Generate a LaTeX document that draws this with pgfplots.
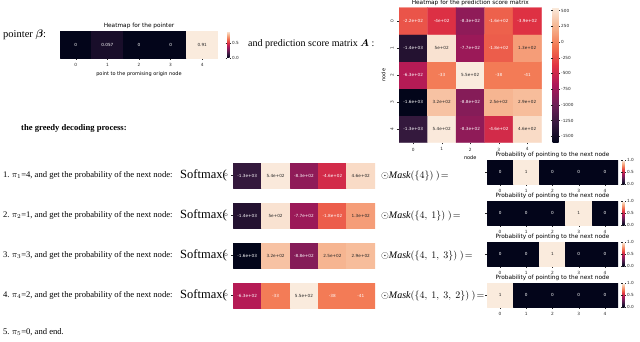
\documentclass[border=0pt]{standalone}
\usepackage{pgfplots}
\pgfplotsset{compat=1.18}
\usepackage{amsmath}
\usepackage{fontspec}
\setmainfont{Liberation Serif}
\newfontfamily\dv{DejaVu Sans}

% seaborn "rocket"
\pgfplotsset{colormap={rocket}{rgb255=(3,5,26) rgb255=(53,25,62) rgb255=(112,31,87) rgb255=(173,23,89)
  rgb255=(225,51,66) rgb255=(243,118,81) rgb255=(246,180,143) rgb255=(250,235,221)}}

\pgfplotsset{
  hm/.style={scale only axis, enlargelimits=false, axis line style={draw=none},
    tick align=outside, tick pos=left, major tick length=1.8pt,
    tick style={black!85, line width=0.35pt},
    tick label style={font=\dv\fontsize{4.3}{5}\selectfont, text=black!85},
    /pgf/number format/assume math mode=true,
    colormap name=rocket, xmin=-0.5, xmax=4.5, xtick={0,...,4},
    every axis title/.style={at={(0.5,1)}, anchor=south, inner sep=0pt, yshift=2pt,
      font=\dv\fontsize{5.8}{6}\selectfont},
    label style={font=\dv\fontsize{5}{6}\selectfont}},
  cell/.style={patch, patch type=rectangle, shader=flat corner, point meta=explicit},
  lab/.style={only marks, mark=text, text mark={},
    nodes near coords={\pgfplotspointmeta}, nodes near coords align=center,
    point meta=explicit symbolic,
    every node near coord/.append style={font=\dv\fontsize{4.2}{5}\selectfont, inner sep=0pt, text=#1}},
  % the colorbar already sits 0.3cm to the right; the xshift values below correct it
  cbar/.style={colorbar, colorbar style={at={(parent axis.north east)}, anchor=north west,
    axis line style={draw=none}, tick align=outside, major tick length=1.5pt,
    tick style={black!85, line width=0.35pt},
    yticklabel style={font=\dv\fontsize{4.2}{5}\selectfont, text=black!85, inner sep=1pt,
      /pgf/number format/assume math mode=true, /pgf/number format/1000 sep={}}}},
  row/.style={hm, width=142pt, height=25pt, anchor=north west, ymin=-0.5, ymax=0.5,
    xtick=\empty, ytick={0}, yticklabel style={rotate=90, anchor=south},
    point meta min=-1600, point meta max=550},
  prob/.style={hm, width=131pt, height=24pt, anchor=north west, ymin=-0.5, ymax=0.5,
    ytick={0}, yticklabels={}, title={Probability of pointing to the next node},
    point meta min=0, point meta max=1, cbar,
    colorbar style={xshift=-4pt, width=2pt, ytick={0,0.5,1},
      yticklabel style={/pgf/number format/.cd, fixed, fixed zerofill, precision=1}}},
}
\tikzset{txt/.style={anchor=west, inner sep=0pt}}

\begin{document}
\begin{tikzpicture}

% ---- texts
\node[txt, font=\fontsize{10.5}{12}\selectfont] at (3pt,-35pt) {pointer $\boldsymbol{\beta}$:};
\node[txt, font=\fontsize{10}{12}\selectfont] at (248pt,-44pt) {and prediction score matrix $\boldsymbol{A}$ :};
\node[txt, font=\fontsize{8.6}{10}\selectfont\bfseries] at (21pt,-128pt) {the greedy decoding process:};
\foreach \k/\p/\v/\m in {0/1/4/{4}, 1/2/1/{4,\ 1}, 2/3/3/{4,\ 1,\ 3}, 3/4/2/{4,\ 1,\ 3,\ 2}} {
  \pgfmathsetmacro{\yy}{175.5+40*\k}
  \node[txt, font=\fontsize{8.6}{10}\selectfont] at (3pt,-\yy pt) {\p.\ $\pi_{\p}$=\v, and get the probability of the next node:};
  \node[txt, font=\fontsize{12.5}{14}\selectfont] at (180pt,-\yy pt) {Softmax(};
  \node[txt, font=\fontsize{10}{12}\selectfont] at (381pt,-\yy pt) {$\odot\mathit{Mask}(\{\m\})\ )\!=$};
}
\node[txt, font=\fontsize{8.6}{10}\selectfont] at (3pt,-332pt) {5.\ $\pi_5$=0, and end.};

% ---- pointer beta
\begin{axis}[hm, at={(60pt,-31pt)}, anchor=north west, width=158pt, height=27pt,
  ymin=-0.5, ymax=0.5, ytick=\empty, title={Heatmap for the pointer},
  xlabel={point to the promising origin node}, xlabel style={yshift=2pt},
  point meta min=0, point meta max=0.91, cbar,
  colorbar style={xshift=0.5pt, width=2.5pt, ytick={0,0.5},
    yticklabel style={/pgf/number format/.cd, fixed, fixed zerofill, precision=1}}]
\addplot[cell] coordinates {
(-0.5,-0.5)[0] (0.5,-0.5)[0] (0.5,0.5)[0] (-0.5,0.5)[0]
(0.5,-0.5)[0.057] (1.5,-0.5)[0.057] (1.5,0.5)[0.057] (0.5,0.5)[0.057]
(1.5,-0.5)[0] (2.5,-0.5)[0] (2.5,0.5)[0] (1.5,0.5)[0]
(2.5,-0.5)[0] (3.5,-0.5)[0] (3.5,0.5)[0] (2.5,0.5)[0]
(3.5,-0.5)[0.91] (4.5,-0.5)[0.91] (4.5,0.5)[0.91] (3.5,0.5)[0.91]
};
\addplot[lab=white] coordinates {(0,0)[0] (1,0)[0.057] (2,0)[0] (3,0)[0]};
\addplot[lab=black!85] coordinates {(4,0)[0.91]};
\end{axis}

% ---- prediction score matrix A (y = 4 - row)
\begin{axis}[hm, at={(399pt,-7.5pt)}, anchor=north west, width=142.5pt, height=135pt,
  ymin=-0.5, ymax=4.5, ytick={0,...,4}, yticklabels={4,3,2,1,0},
  yticklabel style={rotate=90, anchor=south},
  title={Heatmap for the prediction score matrix},
  xlabel={node}, ylabel={node}, xlabel style={yshift=2pt}, ylabel style={yshift=-2pt},
  point meta min=-1600, point meta max=550, cbar,
  colorbar style={xshift=2.5pt, width=6pt, ytick={-1500,-1250,...,500}}]
\addplot[matrix plot*, mesh/cols=5, point meta=explicit] coordinates {
(0,0)[-1300] (1,0)[540] (2,0)[-830] (3,0)[-460] (4,0)[460]

(0,1)[-1600] (1,1)[320] (2,1)[-880] (3,1)[250] (4,1)[290]

(0,2)[-630] (1,2)[-33] (2,2)[550] (3,2)[-38] (4,2)[-41]

(0,3)[-1400] (1,3)[500] (2,3)[-770] (3,3)[-180] (4,3)[130]

(0,4)[-220] (1,4)[-400] (2,4)[-830] (3,4)[-160] (4,4)[-390]
};
\addplot[lab=white] coordinates {
(0,4)[{-2.2e+02}] (1,4)[{-4e+02}] (2,4)[{-8.3e+02}] (3,4)[{-1.6e+02}] (4,4)[{-3.9e+02}]
(0,3)[{-1.4e+03}] (2,3)[{-7.7e+02}] (3,3)[{-1.8e+02}]
(0,2)[{-6.3e+02}] (1,2)[{-33}] (3,2)[{-38}] (4,2)[{-41}]
(0,1)[{-1.6e+03}] (2,1)[{-8.8e+02}]
(0,0)[{-1.3e+03}] (2,0)[{-8.3e+02}] (3,0)[{-4.6e+02}]
};
\addplot[lab=black!85] coordinates {
(1,3)[{5e+02}] (4,3)[{1.3e+02}] (2,2)[{5.5e+02}] (1,1)[{3.2e+02}] (3,1)[{2.5e+02}]
(4,1)[{2.9e+02}] (1,0)[{5.4e+02}] (4,0)[{4.6e+02}]
};
\end{axis}

% ---- softmax rows
\begin{axis}[row, at={(233pt,-163pt)}]
\addplot[cell] coordinates {
(-0.5,-0.5)[-1300] (0.5,-0.5)[-1300] (0.5,0.5)[-1300] (-0.5,0.5)[-1300]
(0.5,-0.5)[540] (1.5,-0.5)[540] (1.5,0.5)[540] (0.5,0.5)[540]
(1.5,-0.5)[-830] (2.5,-0.5)[-830] (2.5,0.5)[-830] (1.5,0.5)[-830]
(2.5,-0.5)[-460] (3.5,-0.5)[-460] (3.5,0.5)[-460] (2.5,0.5)[-460]
(3.5,-0.5)[460] (4.5,-0.5)[460] (4.5,0.5)[460] (3.5,0.5)[460]
};
\addplot[lab=white] coordinates {(0,0)[{-1.3e+03}] (2,0)[{-8.3e+02}] (3,0)[{-4.6e+02}]};
\addplot[lab=black!85] coordinates {(1,0)[{5.4e+02}] (4,0)[{4.6e+02}]};
\end{axis}

\begin{axis}[row, at={(233pt,-203pt)}]
\addplot[cell] coordinates {
(-0.5,-0.5)[-1400] (0.5,-0.5)[-1400] (0.5,0.5)[-1400] (-0.5,0.5)[-1400]
(0.5,-0.5)[500] (1.5,-0.5)[500] (1.5,0.5)[500] (0.5,0.5)[500]
(1.5,-0.5)[-770] (2.5,-0.5)[-770] (2.5,0.5)[-770] (1.5,0.5)[-770]
(2.5,-0.5)[-180] (3.5,-0.5)[-180] (3.5,0.5)[-180] (2.5,0.5)[-180]
(3.5,-0.5)[130] (4.5,-0.5)[130] (4.5,0.5)[130] (3.5,0.5)[130]
};
\addplot[lab=white] coordinates {(0,0)[{-1.4e+03}] (2,0)[{-7.7e+02}] (3,0)[{-1.8e+02}]};
\addplot[lab=black!85] coordinates {(1,0)[{5e+02}] (4,0)[{1.3e+02}]};
\end{axis}

\begin{axis}[row, at={(233pt,-243pt)}]
\addplot[cell] coordinates {
(-0.5,-0.5)[-1600] (0.5,-0.5)[-1600] (0.5,0.5)[-1600] (-0.5,0.5)[-1600]
(0.5,-0.5)[320] (1.5,-0.5)[320] (1.5,0.5)[320] (0.5,0.5)[320]
(1.5,-0.5)[-880] (2.5,-0.5)[-880] (2.5,0.5)[-880] (1.5,0.5)[-880]
(2.5,-0.5)[250] (3.5,-0.5)[250] (3.5,0.5)[250] (2.5,0.5)[250]
(3.5,-0.5)[290] (4.5,-0.5)[290] (4.5,0.5)[290] (3.5,0.5)[290]
};
\addplot[lab=white] coordinates {(0,0)[{-1.6e+03}] (2,0)[{-8.8e+02}]};
\addplot[lab=black!85] coordinates {(1,0)[{3.2e+02}] (3,0)[{2.5e+02}] (4,0)[{2.9e+02}]};
\end{axis}

\begin{axis}[row, at={(233pt,-283pt)}]
\addplot[cell] coordinates {
(-0.5,-0.5)[-630] (0.5,-0.5)[-630] (0.5,0.5)[-630] (-0.5,0.5)[-630]
(0.5,-0.5)[-33] (1.5,-0.5)[-33] (1.5,0.5)[-33] (0.5,0.5)[-33]
(1.5,-0.5)[550] (2.5,-0.5)[550] (2.5,0.5)[550] (1.5,0.5)[550]
(2.5,-0.5)[-38] (3.5,-0.5)[-38] (3.5,0.5)[-38] (2.5,0.5)[-38]
(3.5,-0.5)[-41] (4.5,-0.5)[-41] (4.5,0.5)[-41] (3.5,0.5)[-41]
};
\addplot[lab=white] coordinates {(0,0)[{-6.3e+02}] (1,0)[{-33}] (3,0)[{-38}] (4,0)[{-41}]};
\addplot[lab=black!85] coordinates {(2,0)[{5.5e+02}]};
\end{axis}

% ---- probabilities of the next node
\begin{axis}[prob, at={(487pt,-160pt)}]
\addplot[cell] coordinates {
(-0.5,-0.5)[0] (0.5,-0.5)[0] (0.5,0.5)[0] (-0.5,0.5)[0]
(0.5,-0.5)[1] (1.5,-0.5)[1] (1.5,0.5)[1] (0.5,0.5)[1]
(1.5,-0.5)[0] (2.5,-0.5)[0] (2.5,0.5)[0] (1.5,0.5)[0]
(2.5,-0.5)[0] (3.5,-0.5)[0] (3.5,0.5)[0] (2.5,0.5)[0]
(3.5,-0.5)[0] (4.5,-0.5)[0] (4.5,0.5)[0] (3.5,0.5)[0]
};
\addplot[lab=white] coordinates {(0,0)[0] (2,0)[0] (3,0)[0] (4,0)[0]};
\addplot[lab=black!85] coordinates {(1,0)[1]};
\end{axis}

\begin{axis}[prob, at={(487pt,-201pt)}]
\addplot[cell] coordinates {
(-0.5,-0.5)[0] (0.5,-0.5)[0] (0.5,0.5)[0] (-0.5,0.5)[0]
(0.5,-0.5)[0] (1.5,-0.5)[0] (1.5,0.5)[0] (0.5,0.5)[0]
(1.5,-0.5)[0] (2.5,-0.5)[0] (2.5,0.5)[0] (1.5,0.5)[0]
(2.5,-0.5)[1] (3.5,-0.5)[1] (3.5,0.5)[1] (2.5,0.5)[1]
(3.5,-0.5)[0] (4.5,-0.5)[0] (4.5,0.5)[0] (3.5,0.5)[0]
};
\addplot[lab=white] coordinates {(0,0)[0] (1,0)[0] (2,0)[0] (4,0)[0]};
\addplot[lab=black!85] coordinates {(3,0)[1]};
\end{axis}

\begin{axis}[prob, at={(487pt,-242pt)}]
\addplot[cell] coordinates {
(-0.5,-0.5)[0] (0.5,-0.5)[0] (0.5,0.5)[0] (-0.5,0.5)[0]
(0.5,-0.5)[0] (1.5,-0.5)[0] (1.5,0.5)[0] (0.5,0.5)[0]
(1.5,-0.5)[1] (2.5,-0.5)[1] (2.5,0.5)[1] (1.5,0.5)[1]
(2.5,-0.5)[0] (3.5,-0.5)[0] (3.5,0.5)[0] (2.5,0.5)[0]
(3.5,-0.5)[0] (4.5,-0.5)[0] (4.5,0.5)[0] (3.5,0.5)[0]
};
\addplot[lab=white] coordinates {(0,0)[0] (1,0)[0] (3,0)[0] (4,0)[0]};
\addplot[lab=black!85] coordinates {(2,0)[1]};
\end{axis}

\begin{axis}[prob, at={(487pt,-283pt)}]
\addplot[cell] coordinates {
(-0.5,-0.5)[1] (0.5,-0.5)[1] (0.5,0.5)[1] (-0.5,0.5)[1]
(0.5,-0.5)[0] (1.5,-0.5)[0] (1.5,0.5)[0] (0.5,0.5)[0]
(1.5,-0.5)[0] (2.5,-0.5)[0] (2.5,0.5)[0] (1.5,0.5)[0]
(2.5,-0.5)[0] (3.5,-0.5)[0] (3.5,0.5)[0] (2.5,0.5)[0]
(3.5,-0.5)[0] (4.5,-0.5)[0] (4.5,0.5)[0] (3.5,0.5)[0]
};
\addplot[lab=white] coordinates {(1,0)[0] (2,0)[0] (3,0)[0] (4,0)[0]};
\addplot[lab=black!85] coordinates {(0,0)[1]};
\end{axis}

\pgfresetboundingbox
\path[use as bounding box] (0pt,0pt) rectangle (640pt,-341pt);
\end{tikzpicture}
\end{document}
